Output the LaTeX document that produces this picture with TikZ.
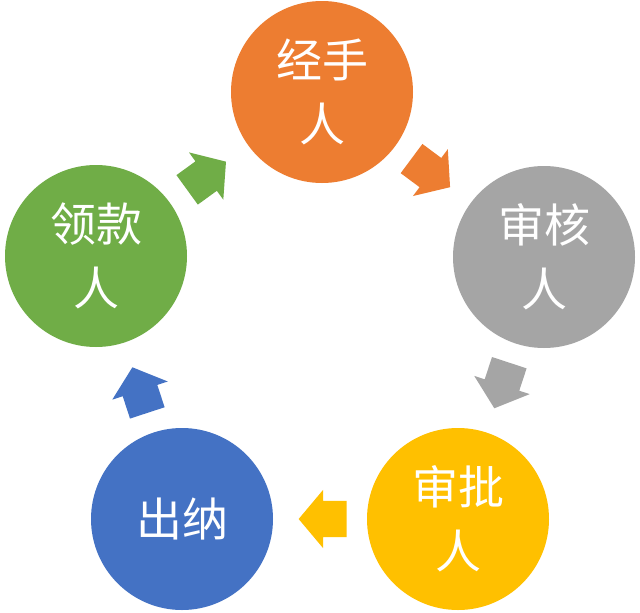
\documentclass[tikz,border=0pt]{standalone}
\usepackage{fontspec}
\newfontfamily\cjk{Noto Sans CJK SC}
\usetikzlibrary{shapes.arrows}
\definecolor{jorange}{HTML}{ED7D31}
\definecolor{jgray}{HTML}{A5A5A5}
\definecolor{jyellow}{HTML}{FFC000}
\definecolor{jblue}{HTML}{4472C4}
\definecolor{jgreen}{HTML}{70AD47}
\begin{document}
\begin{tikzpicture}[x=1pt,y=-1pt,
		role/.style={circle,minimum size=182pt,inner sep=0pt,text=white,align=center,font=\cjk\fontsize{46}{64}\selectfont},
		flow/.style={single arrow,draw=none,minimum height=48pt,inner xsep=0pt,inner ysep=18pt,single arrow head extend=11pt,single arrow tip angle=100,sloped,allow upside down,pos=0.39}]
	\fill[white](0,0) rectangle (640,613);
	\useasboundingbox (0,0) rectangle (640,613);
	\node[role,fill=jorange] (jsr) at (322,92) {经手\\人};
	\node[role,fill=jgray] (shr) at (544,257) {审核\\人};
	\node[role,fill=jyellow] (spr) at (458,519) {审批\\人};
	\node[role,fill=jblue] (cn) at (182,519) {出纳};
	\node[role,fill=jgreen] (lkr) at (96,256) {领款\\人};
	\path (jsr)--node[flow,fill=jorange]{}(shr);
	\path (shr)--node[flow,fill=jgray]{}(spr);
	\path (spr)--node[flow,fill=jyellow]{}(cn);
	\path (cn)--node[flow,fill=jblue]{}(lkr);
	\path (lkr)--node[flow,fill=jgreen]{}(jsr);
\end{tikzpicture}
\end{document}
